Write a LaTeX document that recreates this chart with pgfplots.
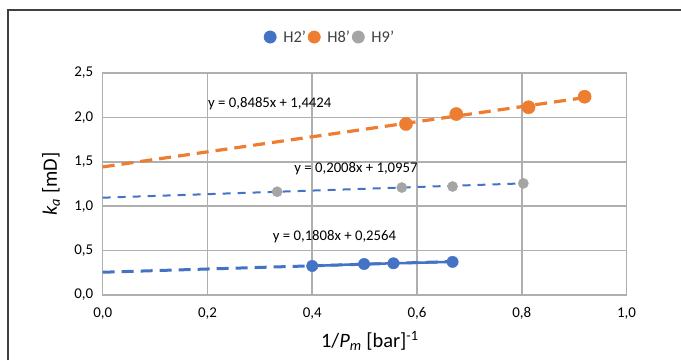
\documentclass[border=0pt]{standalone}
\usepackage{pgfplots}
\pgfplotsset{compat=1.18}
\usepackage{fontspec}
\setmainfont{Carlito}
\definecolor{xlblue}{HTML}{4472C4}
\definecolor{xlorange}{HTML}{ED7D31}
\definecolor{xlgray}{HTML}{A5A5A5}
\definecolor{gridgray}{HTML}{A6A6A6}
\definecolor{legtext}{HTML}{404040}
\begin{document}
\begin{tikzpicture}[x=1bp,y=1bp]
\path[use as bounding box] (0,0) rectangle (681,360);
\draw[line width=1.4bp, color=black!75] (8,0) -- (8,350) -- (681,350);
\begin{axis}[
  at={(102.7bp,65bp)}, anchor=south west,
  scale only axis, width=523.8bp, height=222bp,
  xmin=0, xmax=1, ymin=0, ymax=2.5,
  xtick={0,0.2,0.4,0.6,0.8,1}, ytick={0,0.5,1,1.5,2,2.5},
  /pgf/number format/fixed, /pgf/number format/fixed zerofill,
  /pgf/number format/precision=1, /pgf/number format/use comma,
  /pgf/number format/assume math mode=true,
  grid=major, major grid style={line width=1.5bp, color=gridgray!90},
  axis line style={line width=1.5bp, color=gridgray!90},
  major tick length=0pt,
  tick label style={font=\fontsize{15}{18}\selectfont, color=black},
  xticklabel style={yshift=-9bp},
  yticklabel style={xshift=-6bp},
  xlabel={1/\textit{P}\textsubscript{\textit{m}} [bar]\textsuperscript{-1}},
  ylabel={\textit{k}\textsubscript{\textit{a}} [mD]},
  xlabel style={font=\fontsize{20.5}{24}\selectfont, at={(axis description cs:0.510,-0.207)}, anchor=center},
  ylabel style={font=\fontsize{20.5}{24}\selectfont, at={(axis description cs:-0.0987,0.5)}, anchor=center},
  legend image code/.code={\draw[#1] plot coordinates {(0bp,0bp)};},
  legend style={at={(axis description cs:0.434,1.162)}, anchor=center, draw=none, fill=none,
    legend columns=-1, font=\fontsize{16.5}{19}\selectfont, text=legtext,
    /tikz/every odd column/.append style={column sep=5bp},
    /tikz/every even column/.append style={column sep=0bp}},
  clip=false,
]
\addlegendimage{only marks, mark=*, mark size=6.2bp, color=xlblue}
\addlegendentry{H2'}
\addlegendimage{only marks, mark=*, mark size=6.2bp, color=xlorange}
\addlegendentry{H8'}
\addlegendimage{only marks, mark=*, mark size=6.2bp, color=xlgray}
\addlegendentry{H9'}

% H2' series (markers + solid line)
\addplot[forget plot, color=xlblue, line width=2.5bp, mark=*, mark size=5.7bp, mark options={line width=0.4bp}] coordinates {
(0.400,0.327) (0.499,0.349) (0.555,0.357) (0.668,0.373)};
% H8' series
\addplot[forget plot, only marks, color=xlorange, mark=*, mark size=6.6bp] coordinates {
(0.579,1.926) (0.675,2.038) (0.813,2.114) (0.920,2.233)};
% H9' series
\addplot[forget plot, only marks, color=xlgray, mark=*, mark size=5.1bp] coordinates {
(0.333,1.163) (0.571,1.210) (0.668,1.222) (0.803,1.257)};

% trendlines
\addplot[forget plot, color=xlblue, line width=3bp, dash pattern=on 12bp off 7bp] coordinates {
(0,0.2564) (0.668,0.3772)};
\addplot[forget plot, color=xlorange, line width=3.2bp, dash pattern=on 12bp off 7bp] coordinates {
(0,1.4424) (0.920,2.2230)};
\addplot[forget plot, color=xlblue, line width=2bp, dash pattern=on 8bp off 7bp] coordinates {
(0,1.0957) (0.803,1.2569)};

\node[font=\fontsize{14.8}{17}\selectfont, anchor=center] at (axis cs:0.319,2.15) {y = 0,8485x + 1,4424};
\node[font=\fontsize{14.8}{17}\selectfont, anchor=center] at (axis cs:0.4836,1.419) {y = 0,2008x + 1,0957};
\node[font=\fontsize{14.8}{17}\selectfont, anchor=center] at (axis cs:0.4425,0.653) {y = 0,1808x + 0,2564};
\end{axis}
\end{tikzpicture}
\end{document}
